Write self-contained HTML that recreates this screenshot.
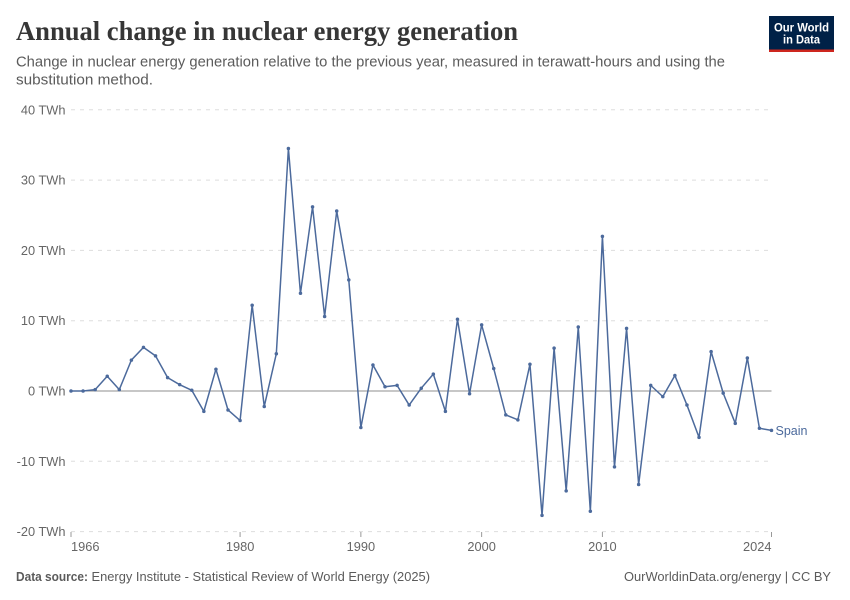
<!DOCTYPE html>
<html lang="en">
<head>
<meta charset="utf-8">
<title>Annual change in nuclear energy generation</title>
<style>
  html, body { margin: 0; padding: 0; background: #fff; }
  svg { display: block; font-family: "Liberation Sans", sans-serif; }
</style>
</head>
<body>
<svg id="chart" xmlns="http://www.w3.org/2000/svg" width="850" height="600" viewBox="0 0 850 600">
  <rect x="0" y="0" width="850" height="600" fill="#fff"/>
  <text x="16" y="40" font-family="'Liberation Serif', serif" font-weight="700" font-size="27" fill="#363636" textLength="502" lengthAdjust="spacingAndGlyphs">Annual change in nuclear energy generation</text>
  <text x="16" y="66.5" font-size="14.5" fill="#5b5b5b" textLength="709" lengthAdjust="spacingAndGlyphs">Change in nuclear energy generation relative to the previous year, measured in terawatt-hours and using the</text>
  <text x="16" y="84.5" font-size="14.5" fill="#5b5b5b" textLength="137" lengthAdjust="spacingAndGlyphs">substitution method.</text>

  <g>
    <rect x="769" y="16" width="65" height="36" fill="#002147"/>
    <rect x="769" y="49.5" width="65" height="2.5" fill="#ce261e"/>
    <text x="801.5" y="31.5" text-anchor="middle" font-size="12" font-weight="700" fill="#fff" textLength="55" lengthAdjust="spacingAndGlyphs">Our World</text>
    <text x="801.5" y="43.5" text-anchor="middle" font-size="12" font-weight="700" fill="#fff" textLength="37" lengthAdjust="spacingAndGlyphs">in Data</text>
  </g>

  <g id="y-axis"></g>
  <g id="x-axis"></g>
  <g id="series"></g>

  <text x="16" y="581" font-size="12.5" font-weight="700" fill="#5b5b5b" textLength="72" lengthAdjust="spacingAndGlyphs">Data source:</text>
  <text x="91.5" y="581" font-size="12.5" fill="#5b5b5b" textLength="338.5" lengthAdjust="spacingAndGlyphs">Energy Institute - Statistical Review of World Energy (2025)</text>
  <text x="831" y="581" text-anchor="end" font-size="12.5" fill="#5b5b5b" textLength="207" lengthAdjust="spacingAndGlyphs">OurWorldinData.org/energy | CC BY</text>
</svg>
<script>
const startYear = 1966;
const spainValues = [
  0, 0, 0.2, 2.1, 0.2, 4.4, 6.2, 5.0, 1.9, 0.9,
  0.1, -2.9, 3.1, -2.7, -4.2, 12.2, -2.2, 5.3, 34.5, 13.9,
  26.2, 10.6, 25.6, 15.8, -5.2, 3.7, 0.6, 0.8, -2.0, 0.4,
  2.4, -2.9, 10.2, -0.4, 9.4, 3.2, -3.4, -4.1, 3.8, -17.7,
  6.1, -14.2, 9.1, -17.1, 22.0, -10.8, 8.9, -13.3, 0.8, -0.8,
  2.2, -2.0, -6.6, 5.6, -0.3, -4.6, 4.7, -5.3, -5.6
];
const yTicks = [40, 30, 20, 10, 0, -10, -20];
const xTicks = [1966, 1980, 1990, 2000, 2010, 2024];
const seriesName = 'Spain';

const NS = 'http://www.w3.org/2000/svg';
const xScale = function (year) { return 71 + (year - 1966) * (771.5 - 71) / (2024 - 1966); };
const yScale = function (v) { return 391 - v * 7.03; };

function make(parent, tag, attrs, text) {
  const el = document.createElementNS(NS, tag);
  Object.keys(attrs).forEach(function (k) { el.setAttribute(k, attrs[k]); });
  if (text !== undefined) el.textContent = text;
  parent.appendChild(el);
  return el;
}

const yAxis = document.getElementById('y-axis');
yTicks.forEach(function (t) {
  const y = yScale(t);
  const line = make(yAxis, 'line', t === 0
    ? { x1: 71, x2: 771.5, y1: y, y2: y, stroke: '#8f8f8f', 'stroke-width': 1 }
    : { x1: 71, x2: 771.5, y1: y, y2: y, stroke: '#dddddd', 'stroke-width': 1, 'stroke-dasharray': '4 5' });
  
  
  const label = make(yAxis, 'text', { x: 65.5, y: y + 4.5, 'text-anchor': 'end', 'font-size': 12.8, fill: '#666' }, t + ' TWh');
  
  
});

const xAxis = document.getElementById('x-axis');
xTicks.forEach(function (t, i) {
  const x = xScale(t);
  const tick = make(xAxis, 'line', { x1: x, x2: x, y1: 532, y2: 537, stroke: '#999', 'stroke-width': 1 });
  
  
  const anchor = i === 0 ? 'start' : (i === xTicks.length - 1 ? 'end' : 'middle');
  const label = make(xAxis, 'text', { x: x, y: 551, 'text-anchor': anchor, 'font-size': 12.8, fill: '#666' }, String(t));
  
  
});

const series = document.getElementById('series');
const pts = spainValues.map(function (v, i) {
  return xScale(startYear + i).toFixed(2) + ',' + yScale(v).toFixed(2);
}).join(' ');
const path = make(series, 'polyline', { points: pts, fill: 'none', stroke: '#4c6a9c', 'stroke-width': 1.5, 'stroke-linejoin': 'round' });


spainValues.forEach(function (v, i) {
  const dot = make(series, 'circle', { cx: xScale(startYear + i), cy: yScale(v), r: 1.75, fill: '#4c6a9c' });
  
  
});
const lastValue = spainValues[spainValues.length - 1];
const endLabel = make(series, 'text', { x: 775.5, y: yScale(lastValue) + 4.5, 'font-size': 12.5, fill: '#4c6a9c' }, seriesName);


</script>
</body>
</html>
